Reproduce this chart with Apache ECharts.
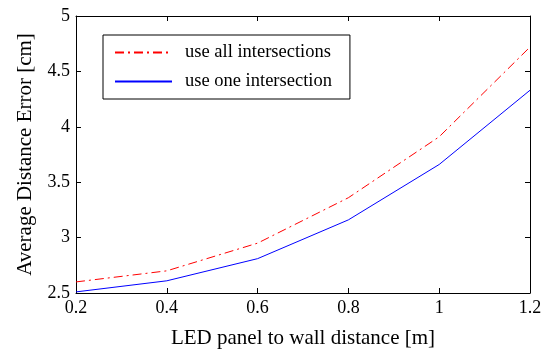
<!DOCTYPE html>
<html>
<head>
<meta charset="utf-8">
<script src="https://cdn.jsdelivr.net/npm/echarts@6/dist/echarts.min.js"></script>
<style>
  html, body { margin: 0; padding: 0; background: #fff; }
  #main { width: 548px; height: 356px; }
</style>
</head>
<body>
<div id="main"></div>
<script>
// distances and errors
var distances = [0.2, 0.4, 0.6, 0.8, 1.0, 1.2];
var allIntersections = [2.60, 2.70, 2.95, 3.36, 3.91, 4.72];
var oneIntersection = [2.51, 2.61, 2.81, 3.16, 3.66, 4.33];
var seriesNames = ['use all intersections', 'use one intersection'];

function pairs(xs, ys) {
  var out = [];
  for (var i = 0; i < xs.length; i++) out.push([xs[i], ys[i]]);
  return out;
}

var font = 'Liberation Serif';
var chart = echarts.init(document.getElementById('main'));

var baseX = {
  type: 'value', min: 0.2, max: 1.2, interval: 0.2,
  axisLine: { show: true, lineStyle: { color: '#000', width: 1 } },
  axisTick: { show: true, inside: true, length: 5, lineStyle: { color: '#000' } },
  splitLine: { show: false }
};
var baseY = {
  type: 'value', min: 2.5, max: 5, interval: 0.5,
  axisLine: { show: true, lineStyle: { color: '#000', width: 1 } },
  axisTick: { show: true, inside: true, length: 5, lineStyle: { color: '#000' } },
  splitLine: { show: false }
};

var option = {
  animation: false,
  backgroundColor: '#fff',
  grid: { left: 76, right: 18, top: 16, bottom: 63 },
  legend: {
    orient: 'vertical',
    left: 103, top: 35,
    padding: [8, 18, 8, 11],
    itemGap: 10,
    itemWidth: 57, itemHeight: 18,
    borderColor: '#000', borderWidth: 1, borderRadius: 0,
    itemStyle: { opacity: 0 },
    textStyle: { fontFamily: font, fontSize: 18.5, color: '#000', padding: [0, 0, 0, 8] },
    data: seriesNames
  },
  xAxis: [
    Object.assign({}, baseX, {
      position: 'bottom',
      name: 'LED panel to wall distance [m]',
      nameLocation: 'middle', nameGap: 35,
      nameTextStyle: { fontFamily: font, fontSize: 21, color: '#000' },
      axisLabel: {
        fontFamily: font, fontSize: 18, color: '#000', margin: 6,
        formatter: function (v) { return String(Math.round(v * 10) / 10); }
      }
    }),
    Object.assign({}, baseX, { position: 'top', axisLabel: { show: false } })
  ],
  yAxis: [
    Object.assign({}, baseY, {
      position: 'left',
      name: 'Average Distance Error [cm]',
      nameLocation: 'middle', nameGap: 40,
      nameTextStyle: { fontFamily: font, fontSize: 21, color: '#000' },
      axisLabel: { fontFamily: font, fontSize: 18, color: '#000', margin: 6 }
    }),
    Object.assign({}, baseY, { position: 'right', axisLabel: { show: false } })
  ],
  series: [
    {
      name: seriesNames[0], type: 'line',
      data: pairs(distances, allIntersections),
      symbol: 'none',
      itemStyle: { color: '#ff0000' },
      lineStyle: { color: '#ff0000', width: 1, type: [9, 4, 2, 4] }
    },
    {
      name: seriesNames[1], type: 'line',
      data: pairs(distances, oneIntersection),
      symbol: 'none',
      itemStyle: { color: '#0000ff' },
      lineStyle: { color: '#0000ff', width: 1 }
    }
  ]
};

chart.setOption(option);
</script>
</body>
</html>
